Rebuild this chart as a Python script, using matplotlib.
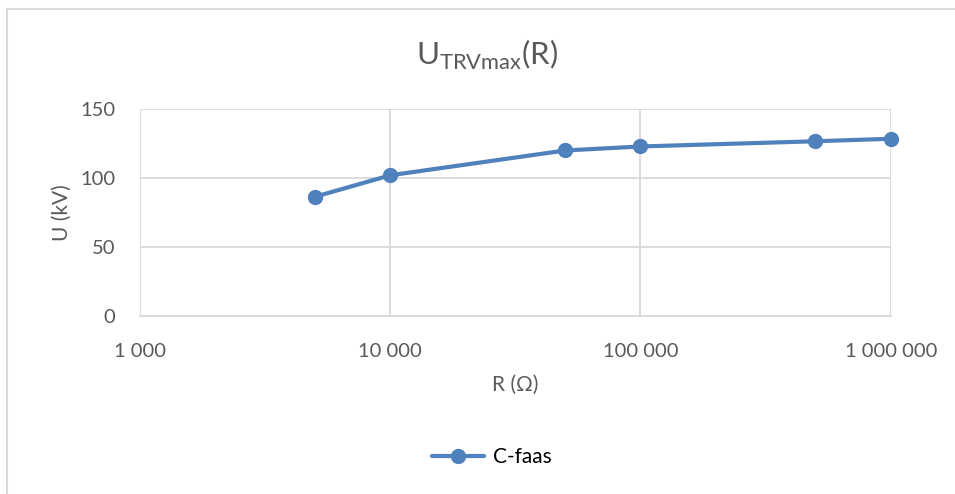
import matplotlib
matplotlib.use("Agg")
import matplotlib.pyplot as plt
from matplotlib.patches import Rectangle
from matplotlib.ticker import FuncFormatter, FixedLocator

plt.rcParams['font.family'] = ['Lato', 'DejaVu Sans']
plt.rcParams['mathtext.fontset'] = 'custom'
plt.rcParams['mathtext.rm'] = 'Lato'

# Resistance (ohm) and maximum TRV (kV)
resistance = [5000, 10000, 50000, 100000, 500000, 1000000]
u_trv_max = [86.3, 101.9, 119.9, 122.8, 126.6, 128.4]
series_name = "C-faas"
x_ticks = [1000, 10000, 100000, 1000000]
y_ticks = [0, 50, 100, 150]

W, H = 955, 494
fig = plt.figure(figsize=(W / 100, H / 100), dpi=100)
fig.patch.set_facecolor("white")

# chart border
fig.patches.append(Rectangle((7 / W, -0.1), 1.2, (H - 9) / H + 0.1,
                             transform=fig.transFigure, fill=False,
                             edgecolor="#d9d9d9", linewidth=1.5))

ax = fig.add_axes([140 / W, 1 - 315.7 / H, (890.7 - 140) / W, (315.7 - 109) / H])
line_color = "#4f81bd"
text_color = "#595959"
grid_color = "#d9d9d9"

ax.plot(resistance, u_trv_max, color=line_color, lw=3, marker="o",
        markersize=10, label=series_name, solid_capstyle="round",
        clip_on=False, zorder=3)

ax.set_xscale("log")
ax.set_xlim(1000, 1000000)
ax.set_ylim(0, 150)
ax.xaxis.set_major_locator(FixedLocator(x_ticks))
ax.xaxis.set_minor_locator(FixedLocator([]))
ax.xaxis.set_major_formatter(FuncFormatter(lambda v, p: f"{int(round(v)):,}".replace(",", " ")))
ax.set_yticks(y_ticks)

ax.grid(True, color=grid_color, lw=1.3)
ax.set_axisbelow(True)
for s in ["top", "right", "left"]:
    ax.spines[s].set_visible(False)
ax.spines["bottom"].set_color(grid_color)
ax.spines["bottom"].set_linewidth(1.3)

ax.tick_params(axis="both", length=0, labelsize=14.5, labelcolor=text_color)
ax.tick_params(axis="x", pad=20)
ax.tick_params(axis="y", pad=18)

ax.set_xlabel("R (Ω)", fontsize=15, color=text_color, labelpad=10)
ax.set_ylabel("U (kV)", fontsize=15, color=text_color, labelpad=6)

fig.text(487 / W, 1 - 55 / H, r"U$_{\mathrm{TRVmax}}$(R)", ha="center", va="center",
         fontsize=22.5, color=text_color)

leg = fig.legend(loc="center", bbox_to_anchor=(0.515, 1 - 457 / H), frameon=False,
                 fontsize=15, handlelength=2.5, handletextpad=0.4)
for t in leg.get_texts():
    t.set_color("black")

fig.savefig("out.png", dpi=100, facecolor="white")
